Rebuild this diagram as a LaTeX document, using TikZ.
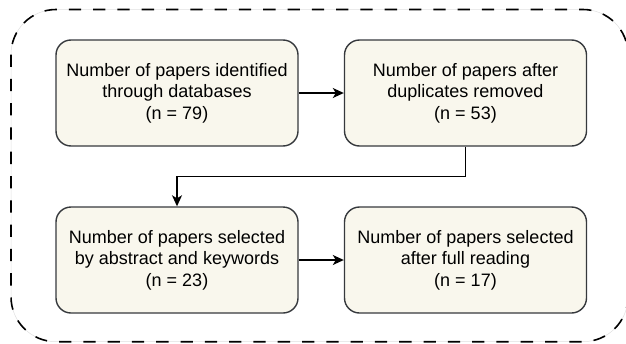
\documentclass[tikz,border=0pt]{standalone}
\usepackage{fontspec}
\setmainfont{Liberation Sans}
\usetikzlibrary{arrows.meta, positioning}
\definecolor{boxfill}{HTML}{F9F7ED}
\definecolor{boxline}{HTML}{36393D}
\tikzset{
  stagebox/.style={draw=boxline, fill=boxfill, line width=1.4pt, rounded corners=15pt,
    minimum width=242pt, minimum height=106pt, inner sep=0pt, align=center,
    font=\fontsize{18}{21.6}\selectfont},
  flow/.style={draw=black, line width=1.4pt, -{Stealth[length=11pt, width=10pt, inset=3pt]}},
  frame/.style={draw=black, line width=1.6pt, rounded corners=45pt, dash pattern=on 12.3pt off 12pt}
}
\begin{document}
\begin{tikzpicture}[x=1pt, y=-1pt]
  \useasboundingbox (0,0) rectangle (626,343);
  % dashed frame round the whole flow
  \draw[gray!25, line width=0.5pt, rounded corners=45pt] (11,9.5) rectangle (628,341.7);
  \draw[frame] (11,9.5) rectangle (628,341.7);
  % the four stages
  \node[stagebox] (found) at (177,93) {Number of papers identified\\through databases\\(n = 79)};
  \node[stagebox] (dedup) at (465.5,93) {Number of papers after\\duplicates removed\\(n = 53)};
  \node[stagebox] (abstr) at (177,260) {Number of papers selected\\by abstract and keywords\\(n = 23)};
  \node[stagebox] (full) at (465.5,260) {Number of papers selected\\after full reading\\(n = 17)};
  % connectors
  \draw[flow] (found) -- (dedup);
  \draw[flow] (dedup.south) -- ++(0,29.5) -| (abstr.north);
  \draw[flow] (abstr) -- (full);
\end{tikzpicture}
\end{document}
